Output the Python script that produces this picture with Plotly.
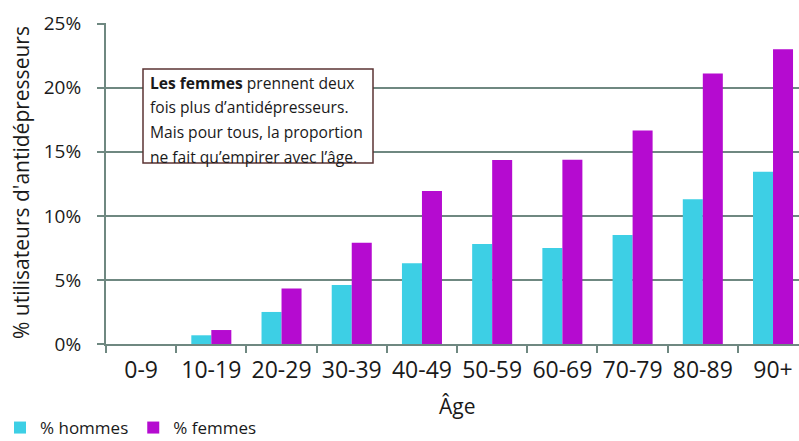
import plotly.graph_objects as go

categories = ["0-9", "10-19", "20-29", "30-39", "40-49", "50-59", "60-69", "70-79", "80-89", "90+"]
hommes = [0.0, 0.68, 2.5, 4.6, 6.3, 7.8, 7.5, 8.5, 11.3, 13.45]
femmes = [0.0, 1.09, 4.34, 7.9, 11.94, 14.35, 14.38, 16.67, 21.1, 23.0]

GRID = "#6f8881"
CYAN = "#3dcfe5"
MAGENTA = "#b50bd0"
FONT = "Open Sans"
TXT = "#1a1a1a"

L, T, PW, PH = 106, 23, 693, 321

fig = go.Figure()
fig.add_trace(go.Bar(name="% hommes", x=categories, y=hommes, marker=dict(color=CYAN, line=dict(width=0))))
fig.add_trace(go.Bar(name="% femmes", x=categories, y=femmes, marker=dict(color=MAGENTA, line=dict(width=0))))

fig.update_layout(
    width=799, height=441,
    margin=dict(l=L, r=0, t=T, b=441 - T - PH, autoexpand=False),
    paper_bgcolor="white", plot_bgcolor="white",
    barmode="group", bargap=0.43, bargroupgap=0,
    font=dict(family=FONT, color=TXT),
    showlegend=True,
    legend=dict(orientation="h", xref="paper", yref="paper", x=(0 - L) / PW, y=-(428 - T - PH) / PH,
                xanchor="left", yanchor="middle", font=dict(size=17, family=FONT, color=TXT),
                itemwidth=30, tracegroupgap=0, bgcolor="rgba(0,0,0,0)"),
)

fig.update_xaxes(
    range=[-0.5, 9.37], tickson="boundaries", ticks="outside", ticklen=7, tickwidth=2, tickcolor=GRID,
    showline=True, linecolor=GRID, linewidth=2, showgrid=False, automargin=False,
    tickfont=dict(size=23, family=FONT, color=TXT), ticklabelstandoff=4,
)
fig.update_yaxes(
    range=[0, 25.05], dtick=5, tick0=0, ticksuffix="%", showgrid=True, gridcolor=GRID, gridwidth=2,
    ticks="outside", ticklen=7, tickwidth=2, tickcolor=GRID, automargin=False,
    showline=True, linecolor=GRID, linewidth=2, zeroline=False,
    tickfont=dict(size=19, family=FONT, color=TXT), ticklabelstandoff=12,
)

# axis titles
fig.add_annotation(xref="paper", yref="paper", x=(21 - L) / PW, y=(344 - 183) / PH, textangle=-90,
                   text="% utilisateurs d'antidépresseurs", showarrow=False,
                   font=dict(size=21, family=FONT, color=TXT), xanchor="center", yanchor="middle")
fig.add_annotation(xref="paper", yref="paper", x=(457 - L) / PW, y=-(406 - T - PH) / PH,
                   text="Âge", showarrow=False,
                   font=dict(size=21, family=FONT, color=TXT), xanchor="center", yanchor="middle")

# text box
bx0, bx1, by0, by1 = 143, 373, 69, 163
fig.add_shape(type="rect", xref="paper", yref="paper",
              x0=(bx0 - L) / PW, x1=(bx1 - L) / PW, y0=1 - (by1 - T) / PH, y1=1 - (by0 - T) / PH,
              line=dict(color="#5b3333", width=1.5), fillcolor="white", layer="above")
lines = ["<b>Les femmes</b> prennent deux", "fois plus d’antidépresseurs.",
         "Mais pour tous, la proportion", "ne fait qu’empirer avec l’âge."]
for i, s in enumerate(lines):
    yc = 83 + i * 24.5
    fig.add_annotation(xref="paper", yref="paper", x=(148 - L) / PW, y=1 - (yc - T) / PH,
                       text=s, showarrow=False, xanchor="left", yanchor="middle", align="left",
                       font=dict(size=15.6, family=FONT, color=TXT))

fig.write_html("out.html", config={"displayModeBar": False},
               post_script="document.body.style.margin='0';document.body.style.overflow='hidden';")
